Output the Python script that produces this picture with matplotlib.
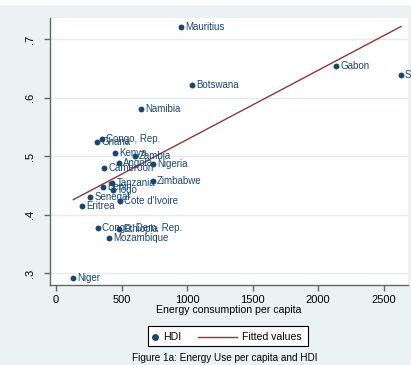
import numpy as np
import matplotlib
matplotlib.use("Agg")
import matplotlib.pyplot as plt
from matplotlib.lines import Line2D
from matplotlib.patches import Rectangle

plt.rcParams['font.family'] = ['Liberation Sans', 'DejaVu Sans']

# data
countries = ["Mauritius", "Gabon", "South Africa", "Botswana", "Namibia",
             "Congo, Rep.", "Ghana", "Kenya", "Zambia", "Angola", "Nigeria",
             "Cameroon", "Tanzania", "Zimbabwe", "Benin", "Togo", "Senegal",
             "Cote d'Ivoire", "Eritrea", "Congo, Dem. Rep.", "Ethiopia",
             "Mozambique", "Niger"]
energy = [954, 2137, 2634, 1038, 649, 351, 313, 453, 601, 478, 740,
          369, 430, 738, 359, 432, 260, 489, 196, 318, 481, 402, 132]
hdi = [0.720, 0.654, 0.638, 0.621, 0.580, 0.529, 0.524, 0.506, 0.500,
       0.488, 0.486, 0.480, 0.455, 0.458, 0.447, 0.443, 0.430, 0.423,
       0.415, 0.378, 0.375, 0.361, 0.292]
xticks = [0, 500, 1000, 1500, 2000, 2500]
yticks = [0.3, 0.4, 0.5, 0.6, 0.7]
ytick_labels = [".3", ".4", ".5", ".6", ".7"]

navy = "#1a476f"
maroon = "#90353b"
bg = "#eaf2f3"

fig = plt.figure(figsize=(4.11, 3.65), dpi=100, facecolor=bg)
fig.patches.append(Rectangle((0, 0.988), 1, 0.012, transform=fig.transFigure,
                             color="white", zorder=0))
ax = fig.add_axes([0.1217, 0.219, 0.8710, 0.7315])
ax.set_facecolor("white")

ax.set_xlim(-46, 2687)
ax.set_ylim(0.280, 0.736)

for y in yticks:
    ax.axhline(y, color="#e3ebee", lw=1.0, zorder=0)

# fitted values
x = np.array(energy, dtype=float)
y = np.array(hdi)
slope, intercept = np.polyfit(x, y, 1)
xs = np.array([x.min(), x.max()])
ax.plot(xs, slope * xs + intercept, color=maroon, lw=1.0, zorder=2)

ax.scatter(energy, hdi, s=18, color=navy, zorder=3, linewidths=0)
for name, ex, hy in zip(countries, energy, hdi):
    ax.annotate(name, (ex, hy), xytext=(3, 0), textcoords="offset points",
                va="center", ha="left", fontsize=7, color=navy, zorder=4,
                annotation_clip=False)

for side in ["top", "right"]:
    ax.spines[side].set_visible(False)
for side in ["left", "bottom"]:
    ax.spines[side].set_color("#666666")
    ax.spines[side].set_linewidth(1.0)

ax.set_xticks(xticks)
ax.set_xticklabels([str(t) for t in xticks], fontsize=8)
ax.set_yticks(yticks)
ax.set_yticklabels(ytick_labels, fontsize=8, rotation=90, va="center")
ax.tick_params(axis="both", color="#666666", length=4, width=1, pad=3)
ax.tick_params(axis="y", pad=7)
ax.set_xlabel("Energy consumption per capita", fontsize=7.6, labelpad=0)

# legend drawn by hand so the marker sits close to its label
fig.patches.append(Rectangle((0.360, 0.053), 0.389, 0.054,
                             transform=fig.transFigure, facecolor="white",
                             edgecolor="black", lw=0.8))
fig.add_artist(Line2D([0.378], [0.078], marker="o", color=navy,
                      markersize=4, transform=fig.transFigure))
fig.text(0.397, 0.078, "HDI", ha="left", va="center", fontsize=7.6)
fig.add_artist(Line2D([0.482, 0.577], [0.078, 0.078], color=maroon, lw=1.0,
                      transform=fig.transFigure))
fig.text(0.590, 0.078, "Fitted values", ha="left", va="center", fontsize=7.6)

fig.text(0.5475, 0.019, "Figure 1a: Energy Use per capita and HDI",
         ha="center", va="center", fontsize=7.2)

fig.savefig("out.png", dpi=100, facecolor=bg)
